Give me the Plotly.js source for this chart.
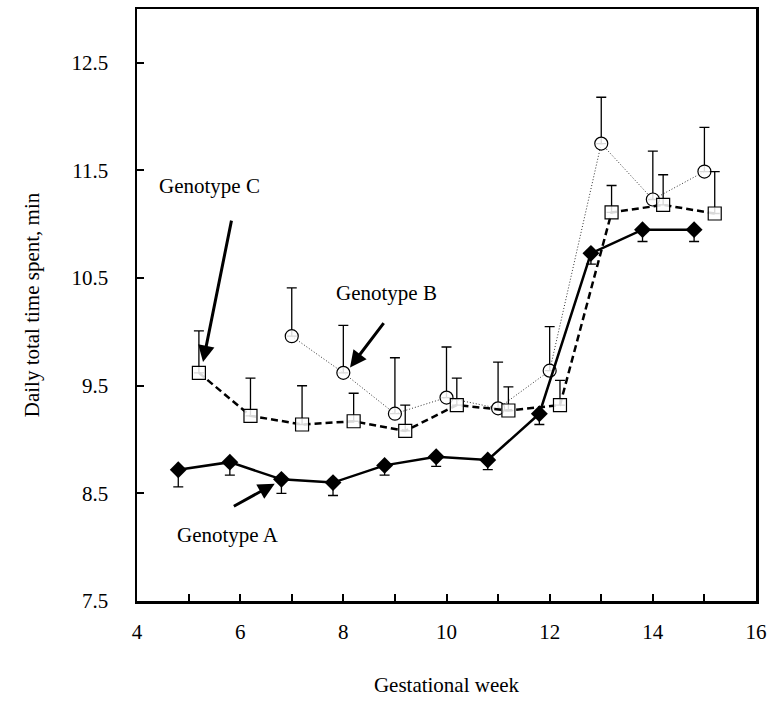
<!DOCTYPE html>
<html>
<head>
<meta charset="utf-8">
<script src="https://cdn.plot.ly/plotly-3.0.1.min.js"></script>
<style>html,body{margin:0;padding:0;background:#fff;}#chart{width:778px;height:714px;}</style>
</head>
<body>
<div id="chart"></div>
<script>
// Genotype A (filled diamonds, solid line, error bars downward)
var weeksA = [4.8, 5.8, 6.8, 7.8, 8.8, 9.8, 10.8, 11.8, 12.8, 13.8, 14.8];
var valuesA = [8.72, 8.79, 8.63, 8.60, 8.76, 8.84, 8.81, 9.24, 10.73, 10.95, 10.95];
var errA = [0.16, 0.12, 0.13, 0.12, 0.09, 0.09, 0.09, 0.10, 0.10, 0.11, 0.11];

// Genotype B (open circles, dotted line, error bars upward)
var weeksB = [7, 8, 9, 10, 11, 12, 13, 14, 15];
var valuesB = [9.96, 9.62, 9.24, 9.39, 9.29, 9.64, 11.75, 11.23, 11.49];
var errB = [0.45, 0.44, 0.52, 0.47, 0.43, 0.41, 0.43, 0.45, 0.41];

// Genotype C (open squares, dashed line, error bars upward)
var weeksC = [5.2, 6.2, 7.2, 8.2, 9.2, 10.2, 11.2, 12.2, 13.2, 14.2, 15.2];
var valuesC = [9.62, 9.22, 9.14, 9.17, 9.08, 9.32, 9.27, 9.32, 11.11, 11.18, 11.10];
var errC = [0.39, 0.35, 0.36, 0.26, 0.24, 0.25, 0.22, 0.23, 0.25, 0.28, 0.39];

var xTickVals = [4, 5, 6, 7, 8, 9, 10, 11, 12, 13, 14, 15, 16];
var xTickText = ['4', '', '6', '', '8', '', '10', '', '12', '', '14', '', '16'];

function zeros(n){ var a=[]; for(var i=0;i<n;i++) a.push(0); return a; }

var traces = [
  {
    x: weeksB, y: valuesB, type: 'scatter', mode: 'lines+markers', name: 'Genotype B',
    line: {color: '#333', width: 1, dash: '1px,2px'},
    marker: {symbol: 'circle', size: 13, color: 'rgba(255,255,255,0.85)', line: {width: 1.2, color: '#000'}},
    error_y: {type: 'data', symmetric: false, array: errB, arrayminus: zeros(errB.length),
              color: '#000', thickness: 1.3, width: 5}
  },
  {
    x: weeksC, y: valuesC, type: 'scatter', mode: 'lines+markers', name: 'Genotype C',
    line: {color: '#000', width: 2.5, dash: '7px,4px'},
    marker: {symbol: 'square', size: 13, color: 'rgba(255,255,255,0.85)', line: {width: 1.2, color: '#000'}},
    error_y: {type: 'data', symmetric: false, array: errC, arrayminus: zeros(errC.length),
              color: '#000', thickness: 1.3, width: 5}
  },
  {
    x: weeksA, y: valuesA, type: 'scatter', mode: 'lines+markers', name: 'Genotype A',
    line: {color: '#000', width: 2.5},
    marker: {symbol: 'diamond', size: 13, color: '#000'},
    error_y: {type: 'data', symmetric: false, array: zeros(errA.length), arrayminus: errA,
              color: '#000', thickness: 1.3, width: 5}
  }
];

var fontFam = 'Times New Roman, Liberation Serif, DejaVu Serif, serif';
var arrowCommon = {xref: 'x', yref: 'y', axref: 'x', ayref: 'y', text: ' ', showarrow: true,
  arrowhead: 2, arrowsize: 1.1, arrowwidth: 3, arrowcolor: '#000'};

var layout = {
  width: 778, height: 714,
  margin: {l: 137, r: 22, t: 9, b: 113},
  paper_bgcolor: '#fff', plot_bgcolor: '#fff',
  showlegend: false,
  font: {family: fontFam, size: 20, color: '#000'},
  xaxis: {
    range: [4, 16], tickmode: 'array', tickvals: xTickVals, ticktext: xTickText,
    ticks: 'inside', ticklen: 7, tickwidth: 2, tickcolor: '#000',
    showline: true, linewidth: 2.5, linecolor: '#000', mirror: true,
    showgrid: false, zeroline: false, ticklabelstandoff: 10,
    tickfont: {family: fontFam, size: 21, color: '#000'},
    title: {text: 'Gestational week', font: {family: fontFam, size: 21, color: '#000'}, standoff: 35}
  },
  yaxis: {
    range: [7.5, 13], tickmode: 'linear', tick0: 7.5, dtick: 1, tickformat: '.1f',
    ticks: 'inside', ticklen: 7, tickwidth: 2, tickcolor: '#000',
    showline: true, linewidth: 2.5, linecolor: '#000', mirror: true,
    showgrid: false, zeroline: false, ticklabelstandoff: 22,
    tickfont: {family: fontFam, size: 21, color: '#000'},
    title: {text: 'Daily total time spent, min', font: {family: fontFam, size: 21, color: '#000'}, standoff: 26}
  },
  annotations: [
    {x: 5.41, y: 11.36, xref: 'x', yref: 'y', text: 'Genotype C', showarrow: false,
     font: {family: fontFam, size: 21, color: '#000'}},
    {x: 8.83, y: 10.36, xref: 'x', yref: 'y', text: 'Genotype B', showarrow: false,
     font: {family: fontFam, size: 21, color: '#000'}},
    {x: 5.76, y: 8.11, xref: 'x', yref: 'y', text: 'Genotype A', showarrow: false,
     font: {family: fontFam, size: 21, color: '#000'}},
    Object.assign({}, arrowCommon, {x: 5.28, y: 9.72, ax: 5.88, ay: 11.15}),
    Object.assign({}, arrowCommon, {x: 8.13, y: 9.67, ax: 8.86, ay: 10.13}),
    Object.assign({}, arrowCommon, {x: 6.67, y: 8.59, ax: 5.80, ay: 8.36})
  ]
};

Plotly.newPlot('chart', traces, layout, {displayModeBar: false, staticPlot: true});
</script>
</body>
</html>
